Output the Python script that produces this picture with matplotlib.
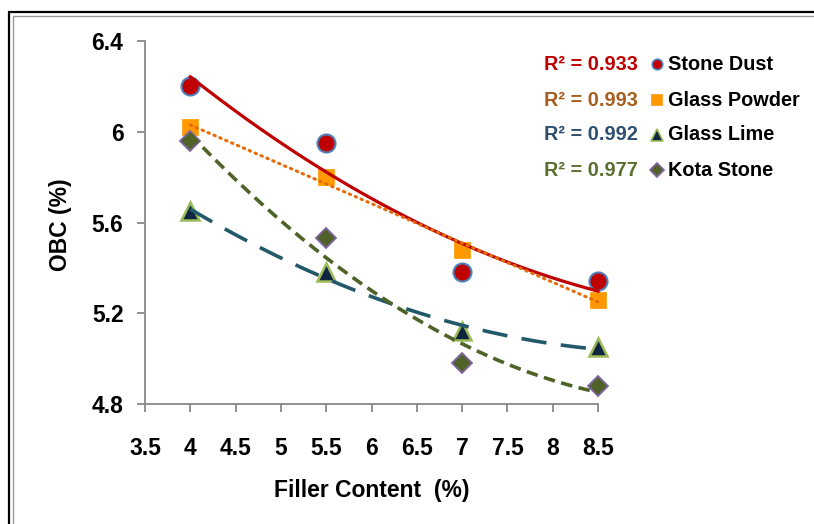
import numpy as np
import matplotlib
matplotlib.use("Agg")
import matplotlib.pyplot as plt
from matplotlib.lines import Line2D
from matplotlib.patches import Rectangle

plt.rcParams["font.family"] = ["Liberation Sans", "DejaVu Sans"]
plt.rcParams["font.weight"] = "bold"

filler = [4, 5.5, 7, 8.5]
stone_dust = [6.20, 5.95, 5.38, 5.34]
glass_powder = [6.02, 5.80, 5.48, 5.26]
glass_lime = [5.65, 5.38, 5.12, 5.05]
kota_stone = [5.96, 5.53, 4.98, 4.88]

names = ["Stone Dust", "Glass Powder", "Glass Lime", "Kota Stone"]
r2_labels = ["R\u00b2 = 0.933", "R\u00b2 = 0.993", "R\u00b2 = 0.992", "R\u00b2 = 0.977"]
x_ticks = [3.5, 4, 4.5, 5, 5.5, 6, 6.5, 7, 7.5, 8, 8.5]
y_ticks = [4.8, 5.2, 5.6, 6.0, 6.4]

# marker style and trendline style per series
styles = [
    dict(marker="o", ms=13, mfc="#C00000", mec="#4F81BD", mew=1.5,
         line=dict(color="#C00000", lw=2.3, ls="-"), r2c="#C00000"),
    dict(marker="s", ms=12, mfc="#FF9900", mec="#FF9900", mew=0.5,
         line=dict(color="#E46C0A", lw=2.2, ls=(0, (0.5, 1.6)), dash_capstyle="round"),
         r2c="#A65E1E"),
    dict(marker="^", ms=13, mfc="#10253F", mec="#9BBB59", mew=1.8,
         line=dict(color="#215968", lw=2.6, ls=(0, (7, 4))), r2c="#2F4F6F"),
    dict(marker="D", ms=10, mfc="#4F6228", mec="#8064A2", mew=1.3,
         line=dict(color="#4F6228", lw=2.6, ls=(0, (3.2, 1.8))), r2c="#5A7030"),
]

W, H = 814, 524
fig = plt.figure(figsize=(W / 100, H / 100), dpi=100)
ax = fig.add_axes([145 / W, 1 - 404 / H, (598 - 145) / W, (404 - 41) / H])

xs = np.linspace(4, 8.5, 200)
for yv, st in zip([stone_dust, glass_powder, glass_lime, kota_stone], styles):
    ax.plot(filler, yv, linestyle="none", marker=st["marker"], ms=st["ms"],
            mfc=st["mfc"], mec=st["mec"], mew=st["mew"], clip_on=False, zorder=3)
    # second order polynomial trendline
    coef = np.polyfit(filler, yv, 2)
    ax.plot(xs, np.polyval(coef, xs), clip_on=False, zorder=4, **st["line"])

ax.set_xlim(3.5, 8.5)
ax.set_ylim(4.8, 6.4)
ax.set_xticks(x_ticks)
ax.set_yticks(y_ticks)
ax.set_xticklabels(["%g" % t for t in x_ticks])
ax.set_yticklabels(["%g" % t for t in y_ticks])
for s in ["top", "right"]:
    ax.spines[s].set_visible(False)
for s in ["left", "bottom"]:
    ax.spines[s].set_color("#888888")
    ax.spines[s].set_linewidth(1.3)
ax.tick_params(axis="both", color="#888888", width=1.3, length=5.5,
               labelsize=16.5)
ax.tick_params(axis="y", pad=10)
ax.tick_params(axis="x", pad=18)
for lbl in ax.get_xticklabels() + ax.get_yticklabels():
    lbl.set_fontweight("bold")

fig.text(372 / W, 1 - 490 / H, "Filler Content  (%)", ha="center", va="center",
         fontsize=16.5, fontweight="bold")
fig.text(60 / W, 1 - 225 / H, "OBC (%)", ha="center", va="center",
         rotation=90, fontsize=16.5, fontweight="bold")

# legend built by hand: R² on the left, marker, series name
rows = [64, 100, 135, 170]
leg_ms = [7.5, 6.5, 8, 7]
for y, name, r2, st, ms in zip(rows, names, r2_labels, styles, leg_ms):
    fy = 1 - y / H
    fig.text(638 / W, fy, r2, ha="right", va="center", fontsize=14.3,
             fontweight="bold", color=st["r2c"])
    fig.add_artist(Line2D([657 / W], [fy], transform=fig.transFigure,
                          marker=st["marker"], ms=ms, mfc=st["mfc"],
                          mec=st["mec"], mew=1.2, linestyle="none"))
    fig.text(668 / W, fy, name, ha="left", va="center", fontsize=14.3,
             fontweight="bold", color="black")

# double border around the chart area
fig.add_artist(Rectangle((8.5 / W, -0.1), 1.2, 1 - 12 / H + 0.1,
                         transform=fig.transFigure, fill=False,
                         edgecolor="black", lw=1.6))
fig.add_artist(Rectangle((12.5 / W, -0.1), 1.2, 1 - 15.5 / H + 0.1,
                         transform=fig.transFigure, fill=False,
                         edgecolor="#999999", lw=1.0))

fig.savefig("out.png", dpi=100)
